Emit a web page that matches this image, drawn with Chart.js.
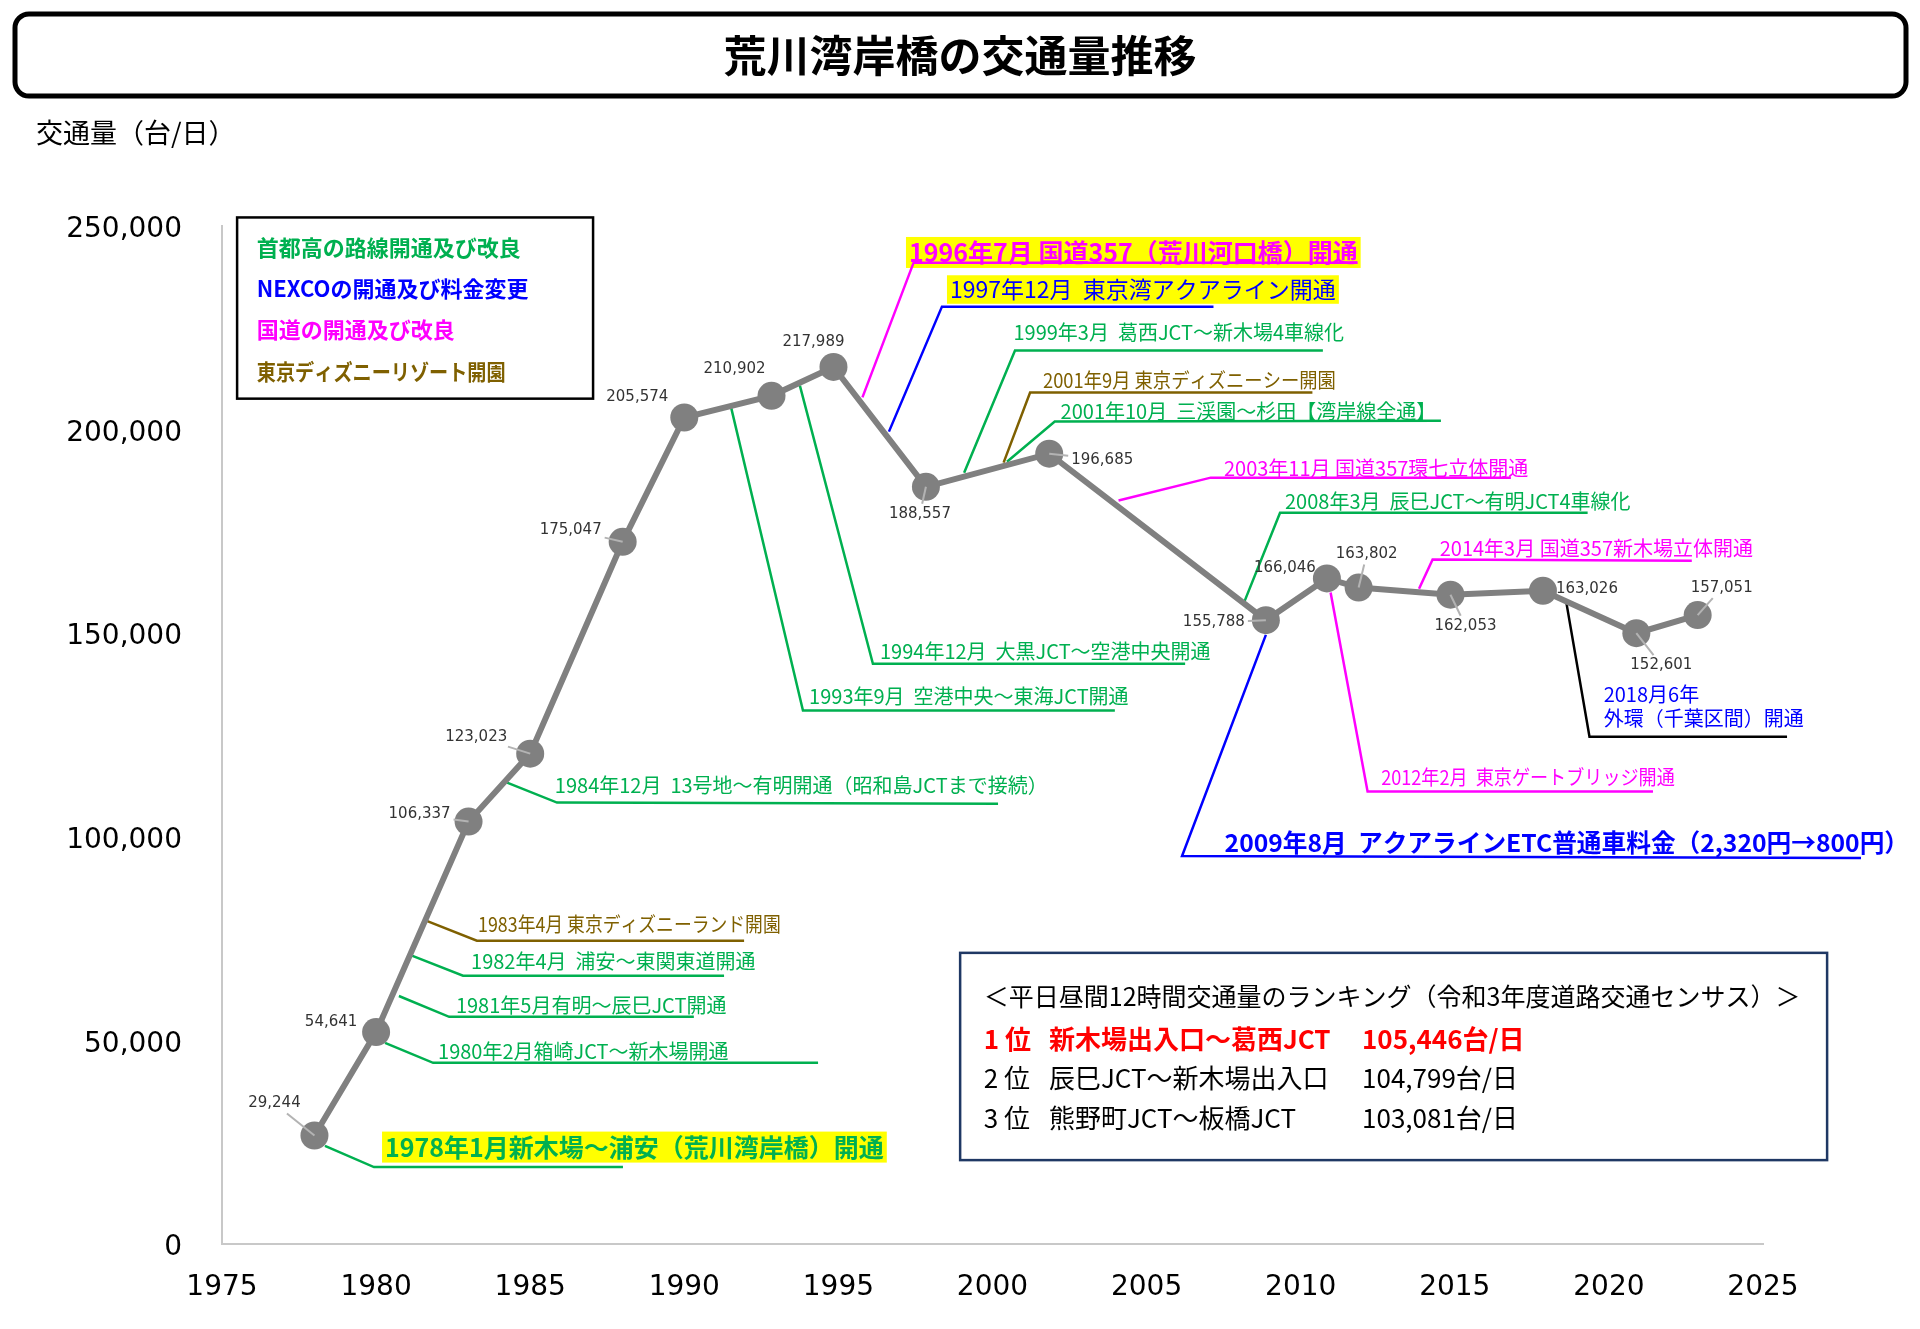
<!DOCTYPE html>
<html lang="ja">
<head>
<meta charset="utf-8">
<title>荒川湾岸橋の交通量推移</title>
<script src="https://cdn.jsdelivr.net/npm/chart.js@4.4.1/dist/chart.umd.min.js"></script>
<style>
  html, body { margin: 0; padding: 0; background: #fff; }
  #wrap { width: 1920px; height: 1329px; position: relative; }
</style>
</head>
<body>
<div id="wrap"><canvas id="chart"></canvas></div>
<script>
const JP = '"Noto Sans CJK JP", "Noto Sans", sans-serif';
const NUM = '"DejaVu Sans", Verdana, sans-serif';

// survey points (x position) and daily traffic
const surveyX = [1978, 1980, 1983, 1985, 1988, 1990, 1992.83, 1994.84, 1997.84, 2001.84,
                 2008.87, 2010.85, 2011.88, 2014.86, 2017.86, 2020.89, 2022.88];
const traffic = [29244, 54641, 106337, 123023, 175047, 205574, 210902, 217989, 188557, 196685,
                 155788, 166046, 163802, 162053, 163026, 152601, 157051];

const xTickYears = [1975, 1980, 1985, 1990, 1995, 2000, 2005, 2010, 2015, 2020, 2025];
const yTickValues = [0, 50000, 100000, 150000, 200000, 250000];

const groupNames = ['首都高の路線開通及び改良', 'NEXCOの開通及び料金変更', '国道の開通及び改良', '東京ディズニーリゾート開園'];
const groupColors = ['#00b050', '#0000ff', '#ff00ff', '#7f6000'];

const eventNames = [
  '1978年1月新木場～浦安（荒川湾岸橋）開通',
  '1980年2月箱崎JCT～新木場開通',
  '1981年5月有明～辰巳JCT開通',
  '1982年4月  浦安～東関東道開通',
  '1983年4月 東京ディズニーランド開園',
  '1984年12月  13号地～有明開通（昭和島JCTまで接続）',
  '1993年9月  空港中央～東海JCT開通',
  '1994年12月  大黒JCT～空港中央開通',
  '1996年7月 国道357（荒川河口橋）開通',
  '1997年12月  東京湾アクアライン開通',
  '1999年3月  葛西JCT～新木場4車線化',
  '2001年9月 東京ディズニーシー開園',
  '2001年10月  三渓園～杉田【湾岸線全通】',
  '2003年11月 国道357環七立体開通',
  '2008年3月  辰巳JCT～有明JCT4車線化',
  '2009年8月  アクアラインETC普通車料金（2,320円→800円）',
  '2012年2月  東京ゲートブリッジ開通',
  '2014年3月 国道357新木場立体開通',
  '2018月6年\n外環（千葉区間）開通'
];
const eventGroup = [0, 0, 0, 0, 3, 0, 0, 0, 2, 1, 0, 3, 0, 2, 0, 1, 2, 2, 1];

const rankTitle = '＜平日昼間12時間交通量のランキング（令和3年度道路交通センサス）＞';
const rankNo = ['1 位', '2 位', '3 位'];
const rankSection = ['新木場出入口～葛西JCT', '辰巳JCT～新木場出入口', '熊野町JCT～板橋JCT'];
const rankVolume = ['105,446台/日', '104,799台/日', '103,081台/日'];

// ---- layout (year, thousands of vehicles on the label axis) ----
// sq = horizontal squeeze of the text (the original font sets katakana narrower)
const eventLayout = [
  { path: [[1978.34, 24.1], [1979.93, 18.9], [1988.01, 18.9]], at: [1980.29, 23.8], size: 25, bold: true, hi: true },
  { path: [[1980.29, 49.4], [1981.85, 44.5], [1994.34, 44.5]], at: [1982.01, 47.2], size: 20 },
  { path: [[1980.74, 60.9], [1982.37, 55.8], [1990.31, 55.8]], at: [1982.59, 58.7], size: 20 },
  { path: [[1981.16, 70.8], [1982.82, 65.9], [1991.29, 65.9]], at: [1983.08, 69.3], size: 20 },
  { path: [[1981.62, 79.4], [1983.27, 74.5], [1991.94, 74.5]], at: [1983.31, 78.4], size: 20, sq: 0.89 },
  { path: [[1984.25, 113.3], [1985.87, 108.4], [2000.18, 108.1]], at: [1985.80, 112.5], size: 20 },
  { path: [[1991.52, 205.4], [1993.85, 131.0], [2003.97, 131.0]], at: [1994.05, 134.4], size: 20 },
  { path: [[1993.75, 210.8], [1996.12, 142.5], [2006.25, 142.5]], at: [1996.35, 145.5], size: 20 },
  { path: [[1995.78, 207.9], [1997.44, 241.0]], at: [1997.29, 243.5], size: 25, bold: true, hi: true, under: true },
  { path: [[1996.64, 199.5], [1998.36, 230.2], [2007.17, 230.2]], at: [1998.62, 234.4], size: 23, hi: true },
  { path: [[1999.08, 189.4], [2000.73, 219.4], [2010.72, 219.4]], at: [2000.68, 223.8], size: 20 },
  { path: [[2000.36, 191.9], [2001.22, 209.1], [2010.38, 209.1]], at: [2001.64, 212.0], size: 20, sq: 0.915 },
  { path: [[2000.47, 192.1], [2002.02, 202.0], [2014.55, 202.2]], at: [2002.21, 204.4], size: 20 },
  { path: [[2004.09, 182.6], [2007.08, 188.2], [2016.82, 188.2]], at: [2007.51, 190.4], size: 20 },
  { path: [[2008.16, 157.5], [2009.33, 179.6], [2019.31, 179.6]], at: [2009.49, 182.3], size: 20 },
  { path: [[2008.87, 149.6], [2006.15, 95.3], [2028.18, 94.8]], at: [2007.53, 98.5], size: 24.7, bold: true },
  { path: [[2010.97, 160.0], [2012.17, 111.1], [2021.43, 111.1]], at: [2012.61, 114.5], size: 20, sq: 0.905 },
  { path: [[2013.84, 160.9], [2014.28, 168.1], [2022.69, 167.8]], at: [2014.51, 170.8], size: 20 },
  { path: [[2018.62, 157.5], [2019.37, 124.6], [2025.78, 124.6]], at: [2019.83, 134.9], size: 20, line: '#000000' }
];

const labelOffsets = [[-40, -32], [-45, -10], [-49, -7], [-54, -17], [-52, -12], [-47, -20], [-37, -27],
  [-20, -25], [-6, 27], [53, 6], [-52, 2], [-42, -10], [8, -33], [15, 31], [44, -2], [25, 32], [24, -27]];
const labelLeader = [true, false, true, true, true, false, false, false, true, true, true, false, true, true, false, true, true];

const legendBox = { from: [1975.49, 252.1], to: [1987.04, 207.6], textX: 1976.13, rows: [244.6, 234.6, 224.6, 214.3], sq: [1, 1, 1, 0.87] };
const rankBox = { from: [1998.95, 71.5], to: [2027.08, 20.6], cols: [1999.72, 2001.83, 2011.99], rows: [60.8, 50.4, 40.8, 31.0] };

function squeezedText(ctx, s, x, y, k) {
  ctx.save();
  ctx.translate(x, y);
  ctx.scale(k, 1);
  ctx.fillText(s, 0, 0);
  ctx.restore();
}

const decor = {
  id: 'decor',
  beforeDatasetsDraw(chart) {
    const ctx = chart.ctx, sx = chart.scales.x, sy = chart.scales.y;
    const X = v => sx.getPixelForValue(v), Y = k => sy.getPixelForValue(k * 1000);
    ctx.save();

    // title box
    ctx.lineWidth = 5;
    ctx.strokeStyle = '#000';
    ctx.beginPath();
    ctx.roundRect(15, 14, 1891, 82, 14);
    ctx.stroke();
    ctx.fillStyle = '#000';
    ctx.font = `bold 43px ${JP}`;
    ctx.textAlign = 'center';
    ctx.textBaseline = 'middle';
    ctx.fillText('荒川湾岸橋の交通量推移', 960, 56);

    // axis title
    ctx.font = `27px ${JP}`;
    ctx.textAlign = 'left';
    ctx.fillText('交通量（台/日）', 36, 133);

    // legend box
    ctx.lineWidth = 2.5;
    ctx.strokeRect(X(legendBox.from[0]), Y(legendBox.from[1]),
      X(legendBox.to[0]) - X(legendBox.from[0]), Y(legendBox.to[1]) - Y(legendBox.from[1]));
    ctx.font = `bold 22px ${JP}`;
    groupNames.forEach((g, i) => {
      ctx.fillStyle = groupColors[i];
      squeezedText(ctx, g, X(legendBox.textX), Y(legendBox.rows[i]), legendBox.sq[i]);
    });

    // event call-outs
    eventNames.forEach((txt, i) => {
      const L = eventLayout[i];
      const color = groupColors[eventGroup[i]];
      const k = L.sq || 1;
      ctx.font = `${L.bold ? 'bold ' : ''}${L.size}px ${JP}`;
      const lines = txt.split('\n');
      const tx = X(L.at[0]), ty = Y(L.at[1]);
      const w = Math.max(...lines.map(s => ctx.measureText(s).width)) * k;
      if (L.hi) {
        ctx.fillStyle = '#ffff00';
        ctx.fillRect(tx - 3, ty - L.size * 0.62, w + 6, L.size * 1.24);
      }
      ctx.fillStyle = color;
      lines.forEach((s, j) => squeezedText(ctx, s, tx, ty + j * L.size * 1.2, k));

      ctx.strokeStyle = L.line || color;
      ctx.lineWidth = 2.5;
      ctx.beginPath();
      L.path.forEach(([a, b], j) => j ? ctx.lineTo(X(a), Y(b)) : ctx.moveTo(X(a), Y(b)));
      if (L.under) ctx.lineTo(tx + w, Y(L.path[L.path.length - 1][1]));
      ctx.stroke();
    });

    // ranking box
    ctx.strokeStyle = '#1f3864';
    ctx.lineWidth = 2.5;
    ctx.strokeRect(X(rankBox.from[0]), Y(rankBox.from[1]),
      X(rankBox.to[0]) - X(rankBox.from[0]), Y(rankBox.to[1]) - Y(rankBox.from[1]));
    ctx.fillStyle = '#000';
    ctx.font = `25px ${JP}`;
    ctx.fillText(rankTitle, X(rankBox.cols[0]), Y(rankBox.rows[0]));
    rankNo.forEach((r, i) => {
      ctx.fillStyle = i === 0 ? '#ff0000' : '#000';
      ctx.font = `${i === 0 ? 'bold ' : ''}26px ${JP}`;
      const yy = Y(rankBox.rows[i + 1]);
      ctx.fillText(r, X(rankBox.cols[0]), yy);
      ctx.fillText(rankSection[i], X(rankBox.cols[1]), yy);
      ctx.fillText(rankVolume[i], X(rankBox.cols[2]), yy);
    });
    ctx.restore();
  },
  afterDatasetsDraw(chart) {
    const ctx = chart.ctx;
    const meta = chart.getDatasetMeta(0);
    ctx.save();
    ctx.font = `15px ${NUM}`;
    ctx.textAlign = 'center';
    ctx.textBaseline = 'middle';
    meta.data.forEach((pt, i) => {
      const [dx, dy] = labelOffsets[i];
      const lx = pt.x + dx, ly = pt.y + dy;
      const txt = traffic[i].toLocaleString('en-US');
      const hw = ctx.measureText(txt).width / 2 + 3, hh = 10;
      if (labelLeader[i]) {
        const t = Math.min(hw / Math.max(Math.abs(dx), 0.01), hh / Math.max(Math.abs(dy), 0.01));
        ctx.strokeStyle = '#b3b3b3';
        ctx.lineWidth = 2;
        ctx.beginPath();
        ctx.moveTo(lx - dx * t, ly - dy * t);
        ctx.lineTo(pt.x, pt.y);
        ctx.stroke();
      }
      ctx.fillStyle = '#333';
      ctx.fillText(txt, lx, ly);
    });
    ctx.restore();
  }
};

new Chart(document.getElementById('chart'), {
  type: 'line',
  data: {
    datasets: [{
      data: surveyX.map((x, i) => ({ x, y: traffic[i] })),
      yAxisID: 'yd',
      borderColor: '#808080',
      borderWidth: 6,
      pointRadius: 14,
      pointBackgroundColor: '#808080',
      pointBorderWidth: 0,
      tension: 0
    }]
  },
  options: {
    responsive: true,
    maintainAspectRatio: false,
    animation: false,
    layout: { padding: { top: 226, right: 157, bottom: 0, left: 0 } },
    plugins: { legend: { display: false }, tooltip: { enabled: false } },
    scales: {
      x: {
        type: 'linear', min: 1975, max: 2025,
        afterBuildTicks: s => { s.ticks = xTickYears.map(v => ({ value: v })); },
        afterFit: s => { s.height = 85; },
        grid: { display: false, drawTicks: false },
        border: { color: '#c8c8c8', width: 2 },
        ticks: { padding: 27, color: '#000', font: { family: NUM, size: 28 }, callback: v => String(v) }
      },
      y: {
        min: 0, max: 250000,
        afterBuildTicks: s => { s.ticks = yTickValues.map(v => ({ value: v })); },
        afterFit: s => { s.width = 222; },
        grid: { display: false, drawTicks: false },
        border: { color: '#c8c8c8', width: 2 },
        ticks: { padding: 40, labelOffset: 4, color: '#000', font: { family: NUM, size: 28 }, callback: v => v.toLocaleString('en-US') }
      },
      yd: { display: false, min: 2600, max: 252600 }
    }
  },
  plugins: [decor]
});
</script>
</body>
</html>
